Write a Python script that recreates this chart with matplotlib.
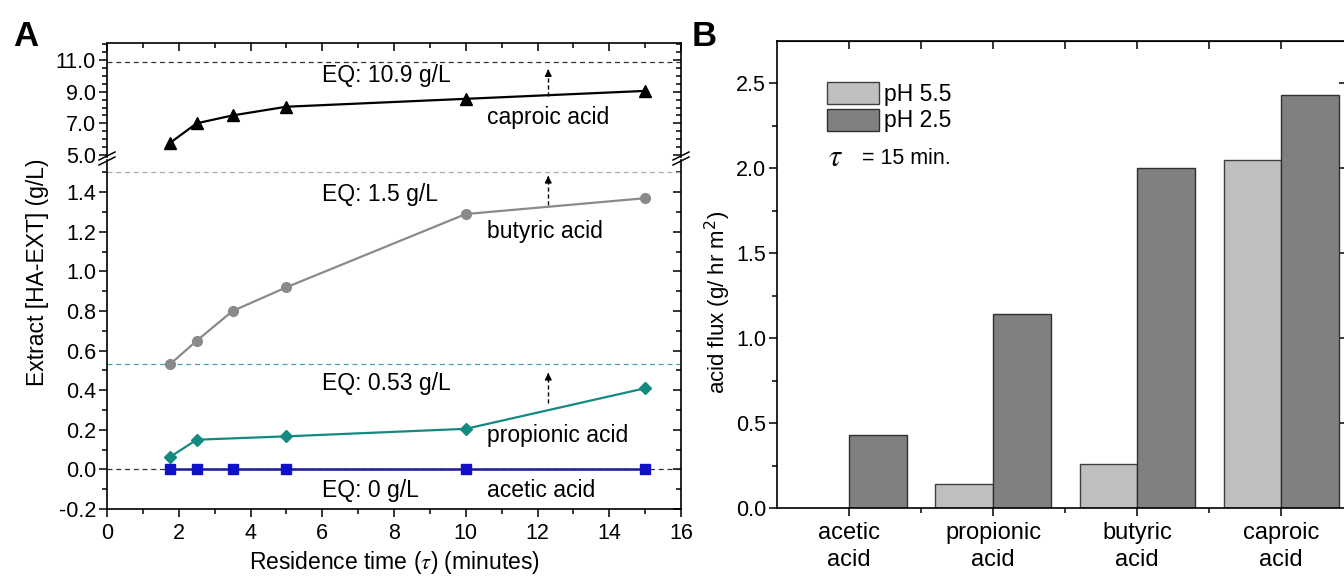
import matplotlib
matplotlib.use("Agg")
import matplotlib.pyplot as plt
from matplotlib.lines import Line2D
from matplotlib.patches import Patch
import numpy as np

plt.rcParams["font.family"] = ["Liberation Sans", "DejaVu Sans"]
plt.rcParams["mathtext.fontset"] = "stix"

# ---- panel A data: extract concentration vs residence time ----
tau = [1.75, 2.5, 3.5, 5, 10, 15]
caproic = [5.75, 7.0, 7.5, 8.05, 8.55, 9.05]
butyric = [0.53, 0.65, 0.80, 0.92, 1.29, 1.37]
tau_prop = [1.75, 2.5, 5, 10, 15]
propionic = [0.062, 0.15, 0.167, 0.205, 0.41]
acetic = [0, 0, 0, 0, 0, 0]
eq_caproic, eq_butyric, eq_propionic, eq_acetic = 10.9, 1.5, 0.53, 0.0

# ---- panel B data: acid flux at tau = 15 min ----
acids = ["acetic\nacid", "propionic\nacid", "butyric\nacid", "caproic\nacid"]
flux_ph55 = [0.0, 0.14, 0.26, 2.05]
flux_ph25 = [0.43, 1.14, 2.0, 2.43]

W, H = 1344, 576
fig = plt.figure(figsize=(W / 100, H / 100), dpi=100)

TICK = 15.5
NOTE = 16.5


def fx(px):
    return px / W


def fy(py):
    return 1 - py / H


# panel A is split: upper part (caproic) and lower part (others)
a_l, a_r = fx(107), fx(681)
ax_up = fig.add_axes([a_l, fy(157), a_r - a_l, fy(42.7) - fy(157)])
ax_lo = fig.add_axes([a_l, fy(509), a_r - a_l, fy(160) - fy(509)])

teal = "#138a80"
blue = "#1010c8"
gray = "#8a8a8a"

# upper segment
ax_up.plot(tau, caproic, color="black", lw=1.6, marker="^", ms=8, zorder=3)
ax_up.axhline(eq_caproic, color="#333333", lw=0.9, ls=(0, (4, 3)))
ax_up.set_ylim(4.87, 12.1)
ax_up.set_yticks([5.0, 7.0, 9.0, 11.0])
ax_up.set_yticks(np.arange(5.0, 12.1, 0.5), minor=True)
ax_up.set_yticklabels(["5.0", "7.0", "9.0", "11.0"])
ax_up.text(6.0, 10.0, "EQ: 10.9 g/L", fontsize=NOTE, va="center")
ax_up.text(10.6, 7.4, "caproic acid", fontsize=NOTE, va="center")
ax_up.plot([12.3, 12.3], [8.7, 10.2], color="black", lw=1.0, ls=(0, (3, 2)))
ax_up.annotate("", xy=(12.3, 10.6), xytext=(12.3, 10.15),
               arrowprops=dict(arrowstyle="-|>", color="black", lw=1.0, mutation_scale=10))

# lower segment
ax_lo.plot(tau, butyric, color=gray, lw=1.6, marker="o", ms=7, zorder=3)
ax_lo.plot(tau_prop, propionic, color=teal, lw=1.6, marker="D", ms=6.5, zorder=3)
ax_lo.plot(tau, acetic, color="#1a1a9a", lw=1.8, marker="s", ms=7, mfc=blue, mec=blue, zorder=4)
ax_lo.axhline(eq_butyric, color="#aaaaaa", lw=0.9, ls=(0, (4, 3)))
ax_lo.axhline(eq_propionic, color="#4aa0aa", lw=0.9, ls=(0, (4, 3)))
ax_lo.axhline(eq_acetic, color="#333333", lw=0.9, ls=(0, (4, 3)))
ax_lo.set_ylim(-0.2, 1.563)
ax_lo.set_yticks(np.arange(-0.2, 1.41, 0.2))
ax_lo.set_yticklabels([f"{v:.1f}" for v in np.arange(-0.2, 1.41, 0.2)])
ax_lo.set_yticks(np.arange(-0.2, 1.56, 0.1), minor=True)
ax_lo.text(6.0, 1.39, "EQ: 1.5 g/L", fontsize=NOTE, va="center")
ax_lo.text(10.6, 1.20, "butyric acid", fontsize=NOTE, va="center")
ax_lo.text(6.0, 0.434, "EQ: 0.53 g/L", fontsize=NOTE, va="center")
ax_lo.text(10.6, 0.172, "propionic acid", fontsize=NOTE, va="center")
ax_lo.text(6.0, -0.106, "EQ: 0 g/L", fontsize=NOTE, va="center")
ax_lo.text(10.6, -0.106, "acetic acid", fontsize=NOTE, va="center")
for y0, y1 in [(1.335, 1.465), (0.335, 0.47)]:
    ax_lo.plot([12.3, 12.3], [y0, y1], color="black", lw=1.0, ls=(0, (3, 2)))
    ax_lo.annotate("", xy=(12.3, y1 + 0.032), xytext=(12.3, y1 - 0.005),
                   arrowprops=dict(arrowstyle="-|>", color="black", lw=1.0, mutation_scale=10))

for ax in (ax_up, ax_lo):
    ax.set_xlim(0, 16)
    ax.set_xticks(np.arange(0, 17, 2))
    ax.set_xticks(np.arange(0, 17, 1), minor=True)
    for s in ax.spines.values():
        s.set_linewidth(1.2)
    ax.tick_params(axis="y", which="both", left=True, right=True, labelsize=TICK, width=1.1, pad=2)
    ax.tick_params(axis="y", which="major", length=6)
    ax.tick_params(axis="y", which="minor", length=3.5)
    ax.tick_params(axis="x", which="major", length=6, width=1.1)
    ax.tick_params(axis="x", which="minor", length=3.5, width=1.1)

ax_up.spines["bottom"].set_visible(False)
ax_up.tick_params(axis="x", which="both", bottom=False, labelbottom=False, top=True, direction="in")
ax_up.tick_params(axis="y", which="both", direction="out")
ax_lo.spines["top"].set_visible(False)
ax_lo.tick_params(axis="x", which="both", top=False, direction="out", labelsize=TICK, pad=4)
ax_lo.tick_params(axis="y", which="both", direction="out")
# right-hand ticks point inward on both segments
for ax in (ax_up, ax_lo):
    for t in ax.yaxis.get_major_ticks() + ax.yaxis.get_minor_ticks():
        t.tick2line.set_marker(matplotlib.lines.TICKLEFT)

ax_lo.set_xlabel(r"Residence time ($\tau$) (minutes)", fontsize=NOTE, labelpad=4)
fig.text(fx(38), fy(272), "Extract [HA-EXT] (g/L)", rotation=90, fontsize=NOTE,
         ha="center", va="center")

# break marks on the split axis
for xp in (107, 681):
    for dy in (-2.5, 2.5):
        fig.add_artist(Line2D([fx(xp - 8), fx(xp + 8)], [fy(158.5 + dy + 4), fy(158.5 + dy - 4)],
                              color="black", lw=1.1))

fig.text(fx(13), fy(36), "A", fontsize=25, fontweight="bold", va="center")

# ---- panel B ----
b_l, b_r = fx(777), fx(1346)
axb = fig.add_axes([b_l, fy(508), b_r - b_l, fy(41) - fy(508)])
pos = np.arange(1, len(acids) + 1)
axb.bar(pos - 0.2, flux_ph55, width=0.4, color="#c0c0c0", edgecolor="#404040", lw=1.0,
        label="pH 5.5")
axb.bar(pos + 0.2, flux_ph25, width=0.4, color="#808080", edgecolor="#303030", lw=1.0,
        label="pH 2.5")
axb.set_xlim(0.5, 4.45)
axb.set_ylim(0, 2.75)
axb.set_xticks(pos)
axb.set_xticklabels(acids, fontsize=17, linespacing=1.3)
axb.set_xticks(pos[:-1] + 0.5, minor=True)
axb.set_yticks(np.arange(0, 2.6, 0.5))
axb.set_yticklabels([f"{v:.1f}" for v in np.arange(0, 2.6, 0.5)])
axb.set_yticks(np.arange(0, 2.75, 0.25), minor=True)
for s in axb.spines.values():
    s.set_linewidth(1.2)
axb.tick_params(axis="x", which="major", length=6, width=1.1, direction="out", pad=4)
axb.tick_params(axis="x", which="minor", length=3.5, width=1.1, direction="out")
axb.tick_params(axis="y", which="major", length=6, width=1.1, direction="out", labelsize=TICK,
                pad=2)
axb.tick_params(axis="y", which="minor", length=3.5, width=1.1, direction="out")
# mirrored ticks on top and right, pointing inward
axb_top = axb.secondary_xaxis("top")
axb_top.set_xticks(np.concatenate([pos, pos[:-1] + 0.5]))
axb_top.tick_params(direction="in", length=6, width=1.1, labeltop=False)
axb_right = axb.secondary_yaxis("right")
axb_right.set_yticks(np.arange(0.5, 2.6, 0.5))
axb_right.tick_params(direction="in", length=5, width=1.1, labelright=False)

axb.set_ylabel(r"acid flux (g/ hr m$^2$)", fontsize=16, labelpad=3,
               math_fontfamily="dejavusans")
axb.yaxis.set_label_coords(-0.078, 0.44)
leg = axb.legend(handles=[Patch(facecolor="#c0c0c0", edgecolor="#404040", label="pH 5.5"),
                          Patch(facecolor="#808080", edgecolor="#303030", label="pH 2.5")],
                 loc="upper left", bbox_to_anchor=(0.088, 0.912), frameon=False,
                 fontsize=NOTE, handlelength=2.27, handleheight=1.1, handletextpad=0.2,
                 labelspacing=0.12, borderaxespad=0, borderpad=0)
axb.text(0.09, 0.749, r"$\tau$", transform=axb.transAxes, fontsize=22, va="center")
axb.text(0.149, 0.749, "= 15 min.", transform=axb.transAxes, fontsize=15.5, va="center")

fig.text(fx(692), fy(36), "B", fontsize=25, fontweight="bold", va="center")

fig.savefig("out.png", dpi=100)
